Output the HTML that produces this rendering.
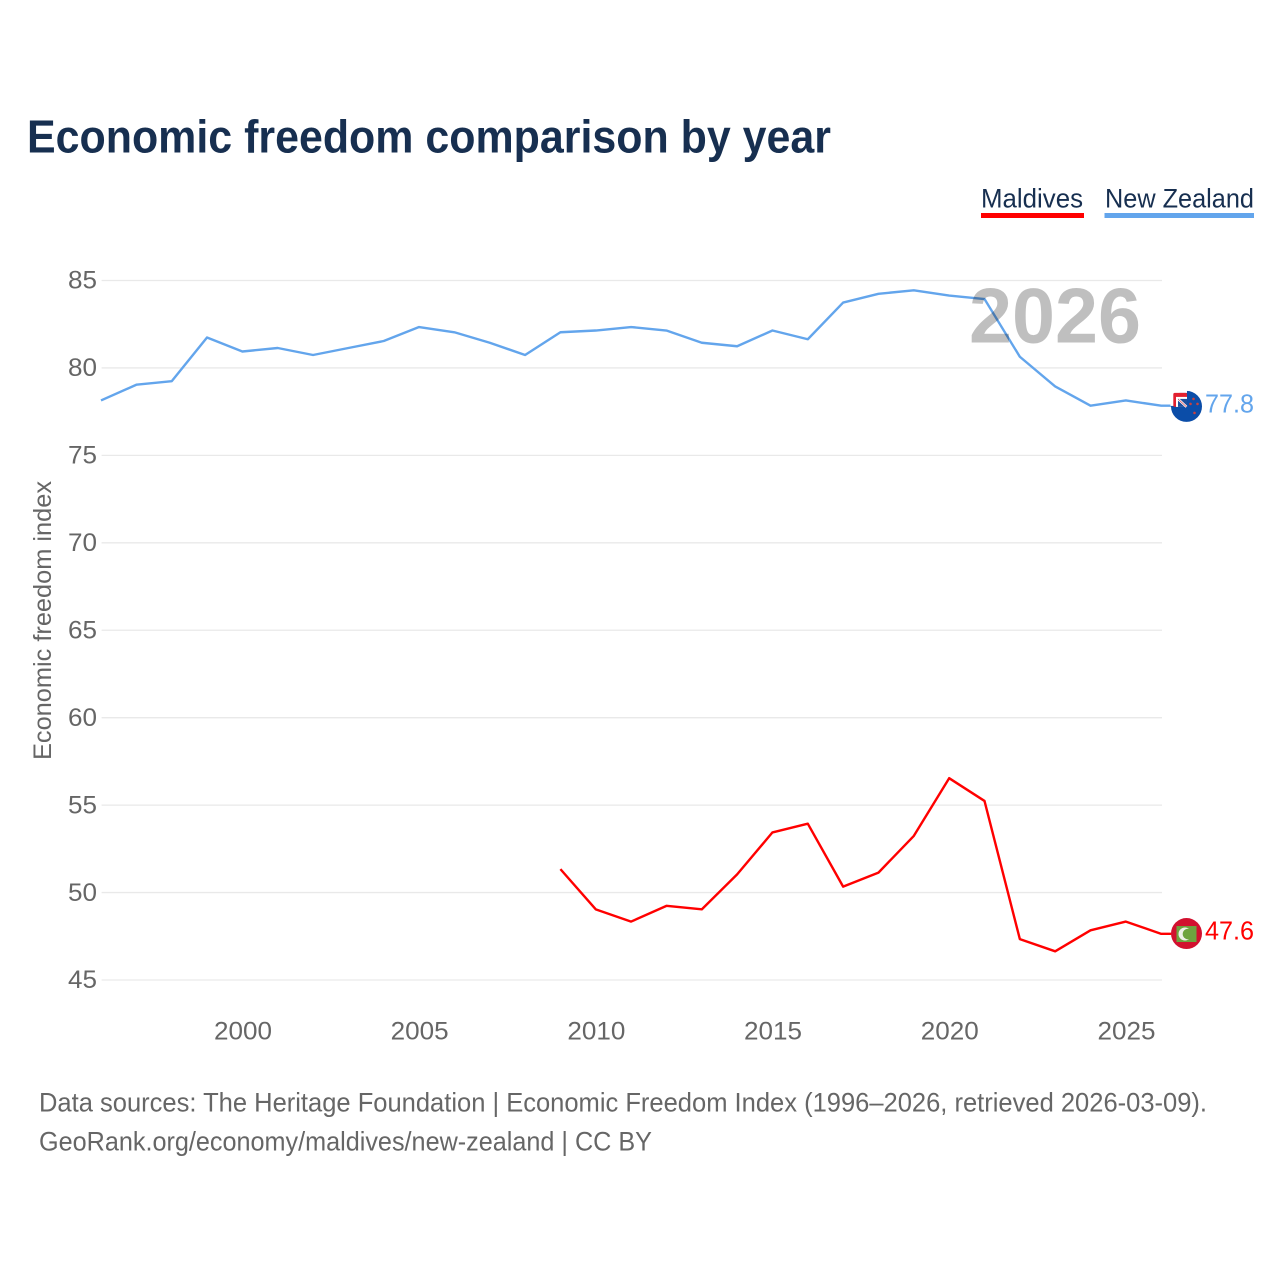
<!DOCTYPE html>
<html lang="en">
<head>
<meta charset="utf-8">
<title>Economic freedom comparison by year</title>
<style>
html,body{margin:0;padding:0;background:#fff;}
svg{display:block;}
text{font-family:"Liberation Sans",sans-serif;}
</style>
</head>
<body>
<svg id="chart" xmlns="http://www.w3.org/2000/svg" width="1280" height="1280" viewBox="0 0 1280 1280">
  <rect x="0" y="0" width="1280" height="1280" fill="#fff"/>
  <text x="27" y="152.500" font-size="46" font-weight="700" fill="#172f50" textLength="804" lengthAdjust="spacingAndGlyphs">Economic freedom comparison by year</text>
  <g>
    <g>
      <text x="981" y="207.500" font-size="27" fill="#172f50" textLength="102" lengthAdjust="spacingAndGlyphs">Maldives</text>
      <rect x="981" y="213" width="103" height="5" fill="#ff0000"/>
    </g>
    <g>
      <text x="1105" y="207.500" font-size="27" fill="#172f50" textLength="149" lengthAdjust="spacingAndGlyphs">New Zealand</text>
      <rect x="1104.500" y="213" width="149.500" height="5" fill="#63a5ec"/>
    </g>
  </g>
  <g id="grid"></g>
  <g id="yticks"></g>
  <g id="xticks"></g>
  <text transform="translate(51 760) rotate(-90)" font-size="25" fill="#666" textLength="279" lengthAdjust="spacingAndGlyphs">Economic freedom index</text>
  <g id="series" transform="translate(-0.6 -0.7)"></g>
  <text x="969" y="342.500" font-size="78" font-weight="700" fill="#000" fill-opacity="0.25" textLength="172" lengthAdjust="spacingAndGlyphs">2026</text>
  <g id="flagNz"></g>
  <g id="flagMv"></g>
  <text id="valNz" x="1205" y="412" font-size="26" fill="#63a5ec" textLength="49" lengthAdjust="spacingAndGlyphs"></text>
  <text id="valMv" x="1205" y="939" font-size="26" fill="#ff0000" textLength="49" lengthAdjust="spacingAndGlyphs"></text>
  <text x="39" y="1111.500" font-size="27" fill="#666" textLength="1168" lengthAdjust="spacingAndGlyphs">Data sources: The Heritage Foundation | Economic Freedom Index (1996–2026, retrieved 2026-03-09).</text>
  <text x="39" y="1150.500" font-size="27" fill="#666" textLength="613" lengthAdjust="spacingAndGlyphs">GeoRank.org/economy/maldives/new-zealand | CC BY</text>
</svg>
<script>
const yTickValues = [45, 50, 55, 60, 65, 70, 75, 80, 85];
const xTickValues = [2000, 2005, 2010, 2015, 2020, 2025];
const nzYears = [1996,1997,1998,1999,2000,2001,2002,2003,2004,2005,2006,2007,2008,2009,2010,2011,2012,2013,2014,2015,2016,2017,2018,2019,2020,2021,2022,2023,2024,2025,2026];
const nzValues = [78.1,79.0,79.2,81.7,80.9,81.1,80.7,81.1,81.5,82.3,82.0,81.4,80.7,82.0,82.1,82.3,82.1,81.4,81.2,82.1,81.6,83.7,84.2,84.4,84.1,83.9,80.6,78.9,77.8,78.1,77.8];
const mvYears = [2009,2010,2011,2012,2013,2014,2015,2016,2017,2018,2019,2020,2021,2022,2023,2024,2025,2026];
const mvValues = [51.3,49.0,48.3,49.2,49.0,51.0,53.4,53.9,50.3,51.1,53.2,56.5,55.2,47.3,46.6,47.8,48.3,47.6];

const NS = 'http://www.w3.org/2000/svg';
function xScale(year){ return 101.6 + (year - 1996) * (1126.6 - 243.1) / 25; }
function yScale(v){ return 980 - (v - 45) * (980 - 280.5) / 40; }
function mk(tag, parent, attrs){
  const el = document.createElementNS(NS, tag);
  for (const k in attrs) el.setAttribute(k, attrs[k]);
  parent.appendChild(el);
  return el;
}
const grid = document.getElementById('grid');
const yticks = document.getElementById('yticks');
const xticks = document.getElementById('xticks');
const series = document.getElementById('series');

yTickValues.forEach(function(v){
  const line = mk('line', grid, {x1:101.6, x2:1162, y1:yScale(v), y2:yScale(v), stroke:'#e9e9e9', 'stroke-width':1.3});
  
  
  const t = mk('text', yticks, {x:97, y:yScale(v)+8.2, 'text-anchor':'end', 'font-size':25, fill:'#666', textLength:29, lengthAdjust:'spacingAndGlyphs'});
  t.textContent = String(v);
  
  
});
xTickValues.forEach(function(y){
  const t = mk('text', xticks, {x:xScale(y), y:1039.5, 'text-anchor':'middle', 'font-size':25, fill:'#666', textLength:58, lengthAdjust:'spacingAndGlyphs'});
  t.textContent = String(y);
  
  
});
function drawLine(years, values, color){
  const pts = years.map(function(y, i){ return xScale(y).toFixed(2) + ',' + yScale(values[i]).toFixed(2); });
  const lastY = yScale(values[values.length - 1]).toFixed(2);
  pts.push('1172,' + lastY);
  return mk('polyline', series, {points:pts.join(' '), fill:'none', stroke:color, 'stroke-width':2.4, 'stroke-linejoin':'round'});
}
const nzLine = drawLine(nzYears, nzValues, '#63a5ec');


const mvLine = drawLine(mvYears, mvValues, '#ff0000');



const nzLast = nzValues[nzValues.length - 1];
const mvLast = mvValues[mvValues.length - 1];
document.getElementById('valNz').textContent = nzLast.toFixed(1);
document.getElementById('valMv').textContent = mvLast.toFixed(1);
const nzCy = yScale(nzLast);
const mvCy = yScale(mvLast) - 1;
document.getElementById('valNz').setAttribute('y', nzCy + 6);
document.getElementById('valMv').setAttribute('y', mvCy + 6);

/* New Zealand flag marker */
const fn = document.getElementById('flagNz');
fn.setAttribute('transform', 'translate(1186.5 ' + nzCy + ')');
mk('circle', fn, {cx:0, cy:0, r:15.5, fill:'#0b4da8'});
mk('rect', fn, {x:-16, y:-16.5, width:16.5, height:3, fill:'#fff'});
mk('rect', fn, {x:-16, y:-16.5, width:3, height:16, fill:'#fff'});
mk('rect', fn, {x:-13.2, y:-13.5, width:13.7, height:14, rx:1.5, fill:'#e2202f'});
mk('rect', fn, {x:-10.5, y:-9.5, width:11, height:10, fill:'#fff'});
mk('rect', fn, {x:-8.5, y:-7.5, width:9, height:8, fill:'#1d4f9d'});
mk('path', fn, {d:'M-8 -7 L0 0.5', stroke:'#fff', 'stroke-width':2.4, fill:'none'});
mk('path', fn, {d:'M-8 -7 L0 0.5', stroke:'#d8434c', 'stroke-width':0.7, fill:'none'});
[[4,-2.5],[11,-2.5],[8,6.5],[7,-7.5]].forEach(function(p){
  mk('circle', fn, {cx:p[0], cy:p[1], r:1.3, fill:'#c9413f'});
});

/* Maldives flag marker */
const fm = document.getElementById('flagMv');
fm.setAttribute('transform', 'translate(1186.5 ' + mvCy + ')');
mk('circle', fm, {cx:0, cy:0, r:15.5, fill:'#d2102f'});
mk('rect', fm, {x:-10, y:-7.5, width:20, height:16, fill:'#6ea33f'});
mk('circle', fm, {cx:-1.5, cy:0.5, r:6.5, fill:'#eef0ea'});
mk('circle', fm, {cx:1.5, cy:0.5, r:5.3, fill:'#6ea33f'});
</script>
</body>
</html>
